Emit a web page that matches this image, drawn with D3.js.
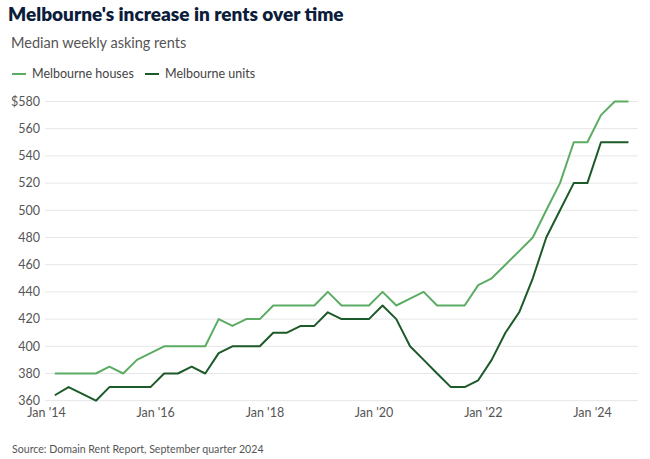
<!DOCTYPE html>
<html><head><meta charset="utf-8">
<script src="https://cdn.jsdelivr.net/npm/d3@7/dist/d3.min.js"></script>
<style>
body{margin:0;background:#fff;}
svg{display:block;font-family:Lato,"Open Sans",sans-serif;}
</style></head><body>
<svg id="c" width="650" height="459"></svg>
<script>
const quarters = ["2014-03","2014-06","2014-09","2014-12","2015-03","2015-06","2015-09","2015-12",
"2016-03","2016-06","2016-09","2016-12","2017-03","2017-06","2017-09","2017-12",
"2018-03","2018-06","2018-09","2018-12","2019-03","2019-06","2019-09","2019-12",
"2020-03","2020-06","2020-09","2020-12","2021-03","2021-06","2021-09","2021-12",
"2022-03","2022-06","2022-09","2022-12","2023-03","2023-06","2023-09","2023-12",
"2024-03","2024-06","2024-09"];
const houses = [380,380,380,380,385,380,390,395,400,400,400,400,420,415,420,420,430,430,430,430,440,430,430,430,440,430,435,440,430,430,430,445,450,460,470,480,500,520,550,550,570,580,580];
const units = [364,370,365,360,370,370,370,370,380,380,385,380,395,400,400,400,410,410,415,415,425,420,420,420,430,420,400,390,380,370,370,375,390,410,425,450,480,500,520,520,550,550,550];
const yTicks = [360,380,400,420,440,460,480,500,520,540,560,580];
const xTicks = ["2014-01","2016-01","2018-01","2020-01","2022-01","2024-01"];
const seriesNames = ["Melbourne houses","Melbourne units"];
const colors = ["#5cac64","#1d5a29"];

const svg = d3.select("#c");
const parse = d3.timeParse("%Y-%m");
const x = d3.scaleTime().domain([parse("2014-01"),parse("2024-01")]).range([46,592]);
const y = d3.scaleLinear().domain([360,580]).range([400.7,101.5]);

svg.append("text").attr("x",8).attr("y",21).attr("font-size",19).attr("font-weight",800)
  .attr("fill","#0c1c3b").text("Melbourne's increase in rents over time");
svg.append("text").attr("x",11).attr("y",48).attr("font-size",14.5).attr("fill","#555")
  .text("Median weekly asking rents");

// legend
const leg = [[12,32],[145,165]];
seriesNames.forEach((n,i)=>{
  svg.append("line").attr("x1",leg[i][0]).attr("x2",leg[i][0]+14).attr("y1",74).attr("y2",74)
    .attr("stroke",colors[i]).attr("stroke-width",2);
  svg.append("text").attr("x",leg[i][1]).attr("y",78).attr("font-size",12.5).attr("fill","#444").text(n);
});

// grid
svg.append("g").selectAll("line").data(yTicks).join("line")
  .attr("x1",45).attr("x2",638).attr("y1",d=>y(d)).attr("y2",d=>y(d))
  .attr("stroke","#e6e6e6").attr("stroke-width",1);

// y axis
const ya = svg.append("g").attr("transform","translate(40,0)")
  .call(d3.axisLeft(y).tickValues(yTicks).tickSize(0).tickPadding(0).tickFormat(d=>d===580?"$580":d));
ya.select(".domain").remove();
ya.selectAll("text").attr("font-family","Lato,sans-serif").attr("font-size",12.5).attr("fill","#555").attr("dy","0.3em");

// x axis
const xa = svg.append("g").attr("transform","translate(0,408)")
  .call(d3.axisBottom(x).tickValues(xTicks.map(parse)).tickSize(0).tickPadding(0).tickFormat(d3.timeFormat("Jan '%y")));
xa.select(".domain").remove();
xa.selectAll("text").attr("font-family","Lato,sans-serif").attr("font-size",12.5).attr("fill","#555").attr("dy","0.75em");

// lines
const line = d3.line().x((d,i)=>x(parse(quarters[i]))).y(d=>y(d));
[houses,units].forEach((s,i)=>{
  svg.append("path").datum(s).attr("d",line).attr("fill","none")
    .attr("stroke",colors[i]).attr("stroke-width",2).attr("stroke-linejoin","round");
});

svg.append("text").attr("x",12).attr("y",453).attr("font-size",10.6).attr("fill","#555")
  .text("Source: Domain Rent Report, September quarter 2024");
</script>
</body></html>
